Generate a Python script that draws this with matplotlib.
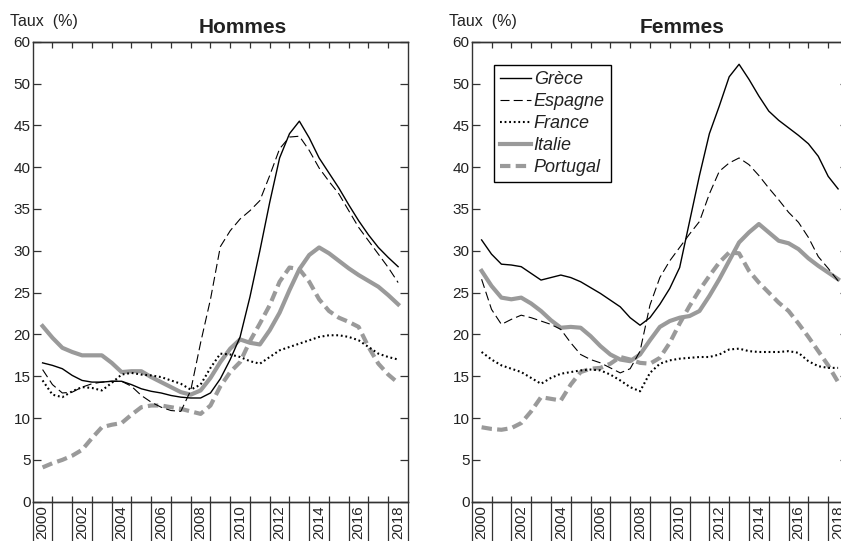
import numpy as np
import matplotlib
matplotlib.use('Agg')
import matplotlib.pyplot as plt

plt.rcParams['font.family'] = ['Liberation Sans', 'DejaVu Sans']
plt.rcParams['lines.scale_dashes'] = False

# ---- data (half-yearly readings, 2000.0 .. 2018.0) ----
periods = np.arange(2000, 2018.01, 0.5)
series_names = ['Grèce', 'Espagne', 'France', 'Italie', 'Portugal']

grece_h = [16.6, 16.3, 15.9, 15.1, 14.5, 14.3, 14.3, 14.4, 14.4, 14.0, 13.5, 13.2, 13.0, 12.7, 12.5, 12.4, 12.4, 13.0, 14.7,
           17.0, 19.7, 24.5, 30.0, 35.8, 41.1, 44.0, 45.5, 43.5, 41.1, 39.3, 37.5, 35.5, 33.6, 31.9, 30.4, 29.2, 28.1]
espagne_h = [15.8, 14.0, 13.0, 13.1, 13.7, 14.1, 14.3, 14.4, 14.4, 13.8, 12.7, 11.9, 11.3, 10.9, 10.8, 13.3, 19.0, 24.2, 30.5,
             32.4, 33.8, 34.8, 36.0, 39.0, 42.2, 43.6, 43.7, 42.0, 39.9, 38.3, 36.8, 34.8, 32.8, 31.2, 29.6, 28.0, 26.2]
france_h = [14.5, 12.8, 12.5, 13.2, 13.7, 13.6, 13.3, 14.2, 15.2, 15.4, 15.2, 15.1, 14.9, 14.5, 14.1, 13.4, 14.0, 16.0, 17.7,
            17.6, 17.3, 16.8, 16.5, 17.3, 18.1, 18.5, 18.9, 19.3, 19.7, 19.9, 19.9, 19.7, 19.3, 18.5, 17.7, 17.3, 17.0]
italie_h = [21.0, 19.6, 18.4, 17.9, 17.5, 17.5, 17.5, 16.6, 15.5, 15.6, 15.6, 14.9, 14.3, 13.7, 13.1, 12.8, 13.3, 14.8, 16.7,
            18.3, 19.4, 19.0, 18.8, 20.5, 22.6, 25.3, 27.8, 29.5, 30.4, 29.7, 28.8, 27.9, 27.1, 26.4, 25.7, 24.7, 23.6]
portugal_h = [4.1, 4.6, 5.0, 5.5, 6.2, 7.6, 8.9, 9.2, 9.4, 10.4, 11.3, 11.5, 11.5, 11.3, 11.1, 10.8, 10.5, 11.5, 13.8,
              15.5, 16.7, 19.2, 21.3, 23.5, 26.3, 28.0, 27.8, 26.3, 24.2, 22.8, 22.0, 21.5, 20.9, 18.5, 16.5, 15.2, 14.2]

grece_f = [31.3, 29.6, 28.4, 28.3, 28.1, 27.3, 26.5, 26.8, 27.1, 26.8, 26.3, 25.6, 24.9, 24.1, 23.3, 22.0, 21.1, 22.0, 23.6,
           25.5, 28.0, 33.5, 39.0, 44.0, 47.3, 50.8, 52.3, 50.5, 48.5, 46.7, 45.6, 44.7, 43.8, 42.8, 41.3, 38.9, 37.4]
espagne_f = [26.6, 23.0, 21.2, 21.8, 22.3, 22.0, 21.6, 21.2, 20.6, 19.0, 17.6, 17.0, 16.6, 16.0, 15.4, 15.9, 18.0, 23.5, 26.8,
             28.8, 30.4, 32.0, 33.5, 36.8, 39.5, 40.5, 41.1, 40.3, 39.0, 37.5, 36.1, 34.6, 33.4, 31.6, 29.3, 27.9, 26.4]
france_f = [17.9, 17.0, 16.3, 15.9, 15.5, 14.8, 14.1, 14.8, 15.3, 15.5, 15.7, 15.8, 15.7, 15.2, 14.5, 13.7, 13.2, 15.4, 16.5,
            16.9, 17.1, 17.2, 17.3, 17.3, 17.6, 18.2, 18.3, 18.0, 17.9, 17.9, 17.9, 18.0, 17.8, 16.8, 16.2, 16.0, 16.0]
italie_f = [27.6, 25.8, 24.4, 24.2, 24.4, 23.7, 22.8, 21.7, 20.8, 20.9, 20.8, 19.8, 18.6, 17.6, 17.0, 16.8, 17.6, 19.3, 20.9,
            21.6, 22.0, 22.2, 22.8, 24.6, 26.6, 28.8, 31.0, 32.2, 33.2, 32.2, 31.2, 30.9, 30.2, 29.1, 28.2, 27.4, 26.6]
portugal_f = [8.9, 8.7, 8.6, 8.8, 9.4, 10.8, 12.5, 12.3, 12.1, 14.0, 15.5, 15.9, 16.0, 16.5, 17.3, 17.0, 16.6, 16.5, 17.2,
              19.0, 21.3, 23.4, 25.3, 27.0, 28.6, 29.8, 29.7, 27.6, 26.2, 25.0, 23.8, 22.8, 21.3, 19.7, 18.0, 16.3, 14.3]

year_label_pos = [2000, 2002, 2004, 2006, 2008, 2010, 2012, 2014, 2016, 2018]
year_labels = [str(y) for y in year_label_pos]
ytick_vals = [0, 5, 10, 15, 20, 25, 30, 35, 40, 45, 50, 55]
ytick_labels = ['0', '5', '10', '15', '20', '25', '30', '35', '40', '45', '50', '60']

hommes = [grece_h, espagne_h, france_h, italie_h, portugal_h]
femmes = [grece_f, espagne_f, france_f, italie_f, portugal_f]

grey = '#9a9a9a'
styles = [
    dict(color='black', lw=1.0, ls='-', zorder=5),
    dict(color='black', lw=0.8, dashes=(6.5, 3.0), zorder=4),
    dict(color='black', lw=1.5, dashes=(1.3, 2.0), zorder=4),
    dict(color=grey, lw=3.0, ls='-', zorder=3),
    dict(color=grey, lw=3.0, dashes=(7.5, 3.8), zorder=3),
]

W, H = 841, 541
fig = plt.figure(figsize=(W / 100, H / 100), dpi=100)
bottom = (H - 501.7) / H
height = 460 / H
ax1 = fig.add_axes([32.7 / W, bottom, 375.3 / W, height])
ax2 = fig.add_axes([471.7 / W, bottom, 376.3 / W, height])

spine_col = '#333333'
for ax, data, title in [(ax1, hommes, 'Hommes'), (ax2, femmes, 'Femmes')]:
    for name, vals, st in zip(series_names, data, styles):
        ax.plot(periods, vals, label=name, solid_joinstyle='round', **st)
    ax.set_xlim(1999.5, 2018.5)
    ax.set_ylim(0, 55)
    # bottom separators (outward)
    ax.set_xticks(np.arange(1999.5, 2018.6, 1.0))
    ax.tick_params(axis='x', which='major', direction='out', length=34, width=0.9,
                   color=spine_col, labelbottom=False)
    ax.set_xticks(year_label_pos, year_labels, minor=True)
    ax.tick_params(axis='x', which='minor', length=0, pad=2.5, labelsize=10.8,
                   labelrotation=90, colors='#222222')
    # inward stubs top and bottom
    for side in ['top', 'bottom']:
        sec = ax.secondary_xaxis(side)
        sec.set_xticks(np.arange(2000.5, 2018, 1.0), labels=[])
        sec.tick_params(direction='in', length=4.5, width=0.9, color=spine_col)
        for sp in sec.spines.values():
            sp.set_linewidth(1.0)
            sp.set_color(spine_col)
    ax.set_yticks(ytick_vals, ytick_labels)
    ax.tick_params(axis='y', direction='in', length=6, width=0.9, left=True, right=True,
                   labelsize=11, pad=1.5, color=spine_col, labelcolor='#222222')
    for sp in ax.spines.values():
        sp.set_linewidth(1.0)
        sp.set_color(spine_col)
    ax.text(0.56, 1.019, title, transform=ax.transAxes, ha='center', va='baseline',
            fontsize=15, fontweight='bold', color='#222222')

fig.text(10 / W, (H - 26) / H, 'Taux  (%)', fontsize=11.5, ha='left', va='baseline', color='#222222')
fig.text(449 / W, (H - 26) / H, 'Taux  (%)', fontsize=11.5, ha='left', va='baseline', color='#222222')

leg = ax2.legend(loc='upper left', bbox_to_anchor=(0.059, 0.949), borderaxespad=0,
                 frameon=True, fancybox=False, edgecolor='black', framealpha=1,
                 prop=dict(style='italic', size=13), handlelength=1.7, handletextpad=0.15,
                 labelspacing=0.27, borderpad=0.35)
leg.get_frame().set_linewidth(1.0)
for t in leg.get_texts():
    t.set_color('#222222')

fig.savefig('out.png', dpi=100)
